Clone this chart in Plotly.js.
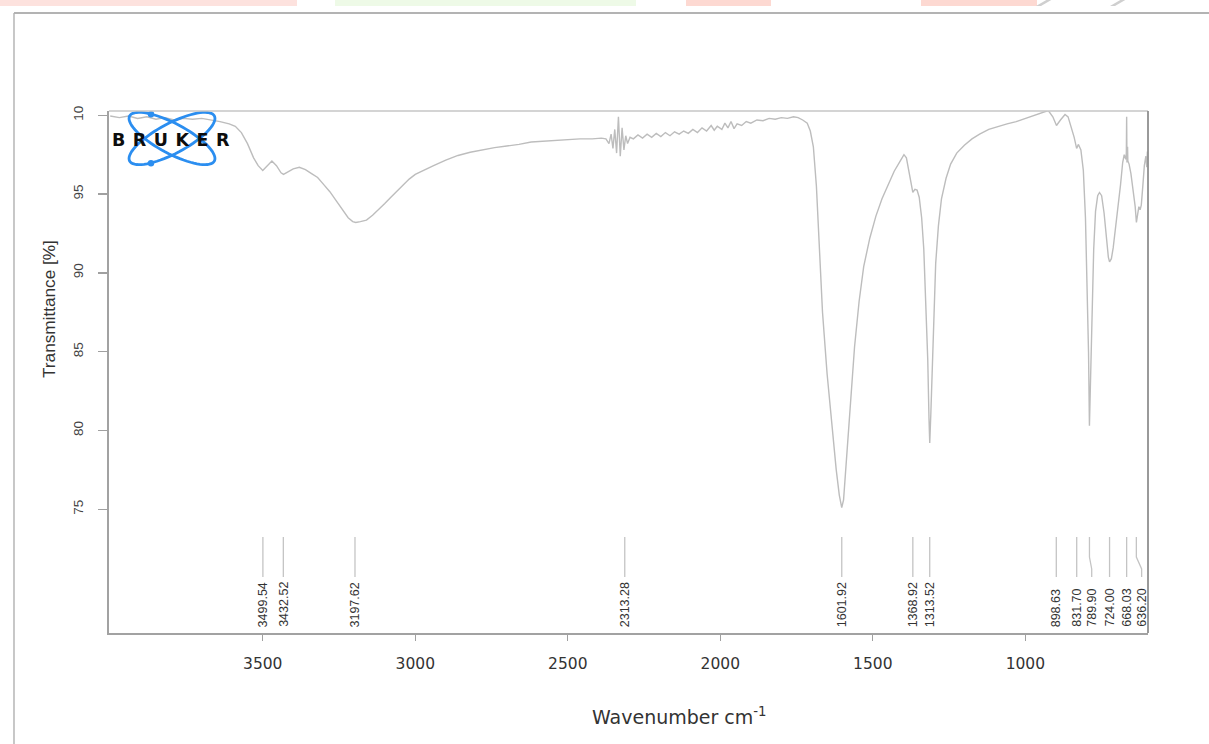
<!DOCTYPE html>
<html><head><meta charset="utf-8">
<script src="https://cdn.plot.ly/plotly-3.0.1.min.js"></script>
<style>html,body{margin:0;padding:0;background:#fff;} #chart{width:1209px;height:744px;}</style>
</head><body><div id="chart"></div>
<script>
// ---- data ----
const wavenumber = [4000,3970,3940,3910,3880,3850,3820,3790,3760,3730,3700,3670,3640,3610,3590,3570,3550,3530,3515,3500,3485,3470,3455,3440,3432,3420,3400,3380,3360,3340,3320,3300,3280,3260,3240,3220,3205,3195,3180,3160,3140,3120,3100,3080,3060,3040,3020,3000,2960,2940,2900,2860,2820,2780,2740,2700,2660,2620,2580,2540,2500,2460,2420,2390,2375,2365,2358,2352,2346,2340,2334,2328,2322,2316,2310,2304,2296,2285,2270,2255,2240,2225,2210,2195,2180,2165,2150,2135,2120,2105,2090,2075,2060,2045,2030,2020,2010,1995,1985,1975,1965,1955,1945,1930,1915,1900,1880,1860,1840,1820,1800,1780,1760,1745,1730,1715,1705,1695,1685,1675,1665,1650,1635,1620,1610,1602,1596,1590,1580,1570,1560,1545,1530,1510,1490,1470,1450,1430,1410,1398,1390,1382,1375,1369,1362,1355,1348,1340,1333,1326,1320,1316,1313.5,1310,1305,1300,1294,1285,1275,1260,1245,1225,1200,1175,1150,1120,1090,1060,1030,1000,970,945,925,910,898,885,870,860,850,840,832,826,818,810,803,797,793,790,787,782,776,770,763,757,750,742,735,728,724,718,712,703,695,688,681,676,671,669,668,667,665,664,660,654,646,640,636,632,628,624,620,615,610,605,602,600,598];
const transmittance = [99.95,99.85,99.95,99.8,99.9,99.75,99.85,99.7,99.8,99.75,99.8,99.7,99.6,99.45,99.3,98.9,98.2,97.3,96.8,96.5,96.8,97.1,96.8,96.35,96.25,96.4,96.6,96.7,96.55,96.3,96.05,95.6,95.15,94.6,94.05,93.5,93.25,93.2,93.25,93.35,93.65,94.0,94.4,94.8,95.2,95.6,95.95,96.25,96.65,96.8,97.15,97.45,97.65,97.8,97.95,98.05,98.15,98.3,98.35,98.4,98.45,98.5,98.5,98.55,98.5,98.2,98.8,97.9,99.1,97.6,99.9,97.4,99.2,97.8,98.7,98.2,98.6,98.5,98.75,98.55,98.8,98.6,98.85,98.65,98.9,98.7,98.95,98.8,99.0,98.85,99.1,98.9,99.2,99.0,99.35,99.05,99.3,99.1,99.5,99.2,99.6,99.15,99.45,99.35,99.6,99.5,99.7,99.65,99.8,99.75,99.85,99.8,99.9,99.85,99.7,99.5,99.0,98.0,95.5,91.5,87.5,83.6,80.3,77.5,75.9,75.1,75.6,77.3,79.8,82.5,85.3,88.2,90.4,92.2,93.6,94.7,95.6,96.45,97.1,97.5,97.3,96.5,95.6,95.1,95.3,95.25,94.8,93.5,91.5,88.0,84.5,80.8,79.2,81.0,84.5,87.8,90.6,93.0,94.7,96.0,96.9,97.6,98.1,98.5,98.8,99.1,99.3,99.45,99.6,99.8,99.95,100.15,100.3,99.9,99.35,99.7,100.05,99.9,99.3,98.6,97.9,98.15,97.8,96.5,93.5,89.0,85.0,80.3,82.5,87.0,91.5,93.9,94.9,95.1,94.9,93.8,92.3,91.0,90.7,90.9,91.6,93.0,94.3,95.6,97.0,97.5,97.2,97.6,99.9,97.0,98.0,97.1,96.9,96.3,95.2,94.2,93.2,93.6,94.2,94.0,94.3,95.5,96.8,97.4,96.7,97.7,97.2];
const peakLabels = ['3499.54','3432.52','3197.62','2313.28','1601.92','1368.92','1313.52','898.63','831.70','789.90','724.00','668.03','636.20'];
const xTickValues = [3500,3000,2500,2000,1500,1000];
const xTickLabels = ['3500','3000','2500','2000','1500','1000'];
const yTickValues = [75,80,85,90,95,100];
const yTickLabels = ['75','80','85','90','95','10'];
const xTitle = 'Wavenumber cm<sup>-1</sup>';
const yTitle = 'Transmittance [%]';
const logoText = 'BRUKER';

// ---- layout geometry ----
const W = 1209, H = 744, ML = 109, MR = 61, MT = 111, MB = 111;
const PW = W - ML - MR, PH = H - MT - MB;
const xRange = [4004, 598], yRange = [67.15, 100.27];
const wn2px = w => ML + (xRange[0] - w) / (xRange[0] - xRange[1]) * PW;
const pX = px => (px - ML) / PW;
const pY = py => (H - MB - py) / PH;

const shapes = [];
const annotations = [];

// peak marker lines and labels (labels pushed apart when crowded)
const peaks = peakLabels.map(Number);
const order = peaks.map((p, i) => i).sort((a, b) => wn2px(peaks[a]) - wn2px(peaks[b]));
const labelPx = [];
let prev = -1e9;
order.forEach(i => { const p = Math.max(wn2px(peaks[i]), prev + 15); labelPx[i] = p; prev = p; });
peaks.forEach((w, i) => {
  const x0 = wn2px(w), x1 = labelPx[i];
  let path;
  if (Math.abs(x1 - x0) < 0.5) {
    path = `M${pX(x0)},${pY(537)} L${pX(x0)},${pY(577)}`;
  } else {
    path = `M${pX(x0)},${pY(537)} L${pX(x0)},${pY(557)} L${pX(x1)},${pY(569)} L${pX(x1)},${pY(577)}`;
  }
  shapes.push({type: 'path', xref: 'paper', yref: 'paper', path: path, line: {color: '#c4c4c4', width: 1.3}});
  annotations.push({xref: 'paper', yref: 'paper', x: pX(x1), y: pY(629), xanchor: 'center', yanchor: 'bottom',
    textangle: -90, showarrow: false, text: peakLabels[i],
    font: {family: 'Liberation Sans, Arial, sans-serif', size: 12.5, color: '#333'}});
});

// axis titles
annotations.push({xref: 'paper', yref: 'paper', x: pX(679), y: pY(716), xanchor: 'center', yanchor: 'middle',
  showarrow: false, text: xTitle, font: {family: 'DejaVu Sans, Verdana, sans-serif', size: 19, color: '#333'}});
annotations.push({xref: 'paper', yref: 'paper', x: pX(49), y: pY(309), xanchor: 'center', yanchor: 'middle',
  textangle: -90, showarrow: false, text: yTitle, font: {family: 'Liberation Sans, Arial, sans-serif', size: 17.2, color: '#333'}});

// logo: two crossed ellipses + dots + text
function ellipsePath(cx, cy, a, b, thetaDeg) {
  const t = thetaDeg * Math.PI / 180; let s = '';
  for (let k = 0; k <= 72; k++) {
    const u = k / 72 * 2 * Math.PI;
    const ex = a * Math.cos(u), ey = b * Math.sin(u);
    const x = cx + ex * Math.cos(t) - ey * Math.sin(t);
    const y = cy + ex * Math.sin(t) + ey * Math.cos(t);
    s += (k === 0 ? 'M' : 'L') + pX(x) + ',' + pY(y) + ' ';
  }
  return s + 'Z';
}
const logoBlue = '#2b8ef0';
shapes.push({type: 'path', layer: 'above', xref: 'paper', yref: 'paper', path: ellipsePath(172, 138.5, 48, 15, 28), line: {color: logoBlue, width: 2.8}});
shapes.push({type: 'path', layer: 'above', xref: 'paper', yref: 'paper', path: ellipsePath(172, 138.5, 48, 15, -28), line: {color: logoBlue, width: 2.8}});
[[151, 114.3], [151, 163.3]].forEach(d => {
  shapes.push({type: 'circle', layer: 'above', xref: 'paper', yref: 'paper',
    x0: pX(d[0] - 3.2), x1: pX(d[0] + 3.2), y0: pY(d[1] + 3.2), y1: pY(d[1] - 3.2),
    fillcolor: logoBlue, line: {width: 0}});
});
annotations.push({xref: 'paper', yref: 'paper', x: pX(174), y: pY(139.5), xanchor: 'center', yanchor: 'middle',
  showarrow: false, text: '<span style="letter-spacing:7.5px">' + logoText + '</span>',
  font: {family: 'DejaVu Sans, sans-serif', size: 17.5, color: '#0d0d0d', weight: 'bold'}});

// plot frame: top lighter, right darker
shapes.push({type: 'line', xref: 'paper', yref: 'paper', x0: 0, x1: 1, y0: 1, y1: 1, line: {color: '#c6c6c6', width: 1.6}});
shapes.push({type: 'line', xref: 'paper', yref: 'paper', x0: 1, x1: 1, y0: 0, y1: 1, line: {color: '#8f8f8f', width: 1.8}});

// page decorations: outer frame and banner strips at the very top
shapes.push({type: 'line', xref: 'paper', yref: 'paper', x0: pX(14), x1: pX(1212), y0: pY(13), y1: pY(13), line: {color: '#9a9a9a', width: 1.6}});
shapes.push({type: 'line', xref: 'paper', yref: 'paper', x0: pX(14), x1: pX(14), y0: pY(13), y1: pY(746), line: {color: '#b0b0b0', width: 1.4}});
[[0, 297, '#fde2de'], [335, 636, '#eefae7'], [686, 771, '#fdd9d2'], [921, 1037, '#fdd9d2']].forEach(b => {
  shapes.push({type: 'rect', xref: 'paper', yref: 'paper', x0: pX(b[0]), x1: pX(b[1]), y0: pY(6), y1: pY(-2), fillcolor: b[2], line: {width: 0}});
});
[[1036, 1048], [1110, 1122]].forEach(s => {
  shapes.push({type: 'path', xref: 'paper', yref: 'paper',
    path: `M${pX(s[0])},${pY(6)} L${pX(s[0] + 5)},${pY(6)} L${pX(s[1] + 5)},${pY(-1)} L${pX(s[1])},${pY(-1)} Z`,
    fillcolor: '#cfcfcf', line: {width: 0}});
});

const trace = {x: wavenumber, y: transmittance, type: 'scatter', mode: 'lines',
  line: {color: '#bdbdbd', width: 1.4}, hoverinfo: 'skip', showlegend: false};

const axisCommon = {showgrid: false, zeroline: false, showline: true, mirror: false,
  linecolor: '#a2a2a2', linewidth: 1.8, ticks: 'outside', tickcolor: '#a0a0a0', tickwidth: 1.3};

const layout = {
  width: W, height: H, margin: {l: ML, r: MR, t: MT, b: MB, pad: 0},
  paper_bgcolor: '#fff', plot_bgcolor: '#fff', showlegend: false,
  xaxis: Object.assign({}, axisCommon, {range: xRange, tickvals: xTickValues, ticktext: xTickLabels,
    ticklen: 6, ticklabelstandoff: 10,
    tickfont: {family: 'DejaVu Sans, sans-serif', size: 15.5, color: '#333'}}),
  yaxis: Object.assign({}, axisCommon, {range: yRange, tickvals: yTickValues, ticktext: yTickLabels,
    ticklen: 9, tickangle: -90, ticklabelstandoff: 10,
    tickfont: {family: 'Liberation Sans, Arial, sans-serif', size: 13.5, color: '#444'}}),
  shapes: shapes, annotations: annotations
};

Plotly.newPlot('chart', [trace], layout, {displayModeBar: false, staticPlot: true});
</script></body></html>
